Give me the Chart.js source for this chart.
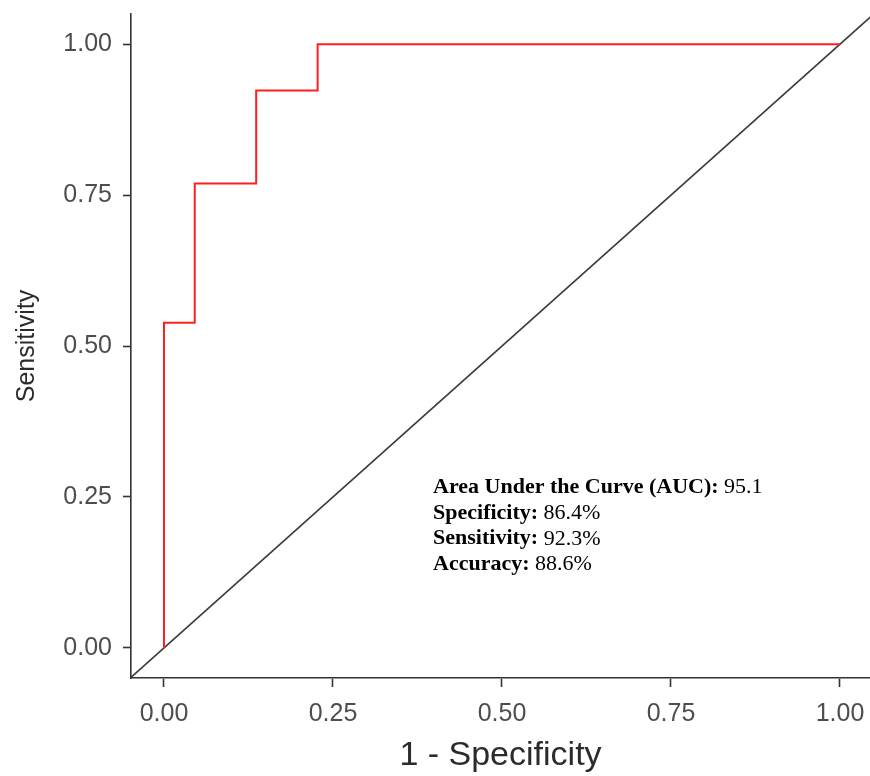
<!DOCTYPE html>
<html>
<head>
<meta charset="utf-8">
<script src="https://cdn.jsdelivr.net/npm/chart.js@4/dist/chart.umd.min.js"></script>
<style>
  html, body { margin: 0; padding: 0; background: #ffffff; overflow: hidden; }
  #wrap { width: 870px; height: 776px; position: relative; }
</style>
</head>
<body>
<div id="wrap"><canvas id="c" width="870" height="776"></canvas></div>
<script>
// ROC curve staircase points (1 - specificity, sensitivity)
const fpr = [0, 0, 0.0455, 0.0455, 0.1364, 0.1364, 0.2273, 0.2273, 1];
const tpr = [0, 0.5385, 0.5385, 0.7692, 0.7692, 0.9231, 0.9231, 1, 1];
// reference diagonal
const diagX = [-0.06, 1.06];
const diagY = [-0.06, 1.06];
// axis ticks
const tickValues = [0, 0.25, 0.5, 0.75, 1];
// annotation
const statLabels = ['Area Under the Curve (AUC):', 'Specificity:', 'Sensitivity:', 'Accuracy:'];
const statValues = ['95.1', '86.4%', '92.3%', '88.6%'];

const rocData = fpr.map((x, i) => ({ x: x, y: tpr[i] }));
const diagData = diagX.map((x, i) => ({ x: x, y: diagY[i] }));

const annotationPlugin = {
  id: 'statsText',
  afterDatasetsDraw(chart) {
    const ctx = chart.ctx;
    const xs = chart.scales.x, ys = chart.scales.y;
    const x0 = xs.getPixelForValue(0.398);
    const y0 = ys.getPixelForValue(0.266);
    const lh = 25.7;
    ctx.save();
    ctx.fillStyle = '#000000';
    ctx.textBaseline = 'middle';
    ctx.textAlign = 'left';
    statLabels.forEach((lab, i) => {
      const y = y0 + i * lh;
      ctx.font = 'bold 22px "Liberation Serif", "Times New Roman", serif';
      ctx.fillText(lab, x0, y);
      const w = ctx.measureText(lab + ' ').width;
      ctx.font = '22px "Liberation Serif", "Times New Roman", serif';
      ctx.fillText(statValues[i], x0 + w, y);
    });
    ctx.restore();
  }
};

const axisColor = '#333333';
const tickFont = { family: '"Liberation Sans", Arial, sans-serif', size: 25 };

new Chart(document.getElementById('c'), {
  type: 'scatter',
  data: {
    datasets: [
      {
        label: 'diagonal',
        data: diagData,
        showLine: true,
        borderColor: '#3c3c3c',
        borderWidth: 1.6,
        pointRadius: 0,
        fill: false,
        order: 2
      },
      {
        label: 'ROC',
        data: rocData,
        showLine: true,
        borderColor: '#ff1f1f',
        borderWidth: 2,
        pointRadius: 0,
        fill: false,
        order: 1
      }
    ]
  },
  options: {
    responsive: false,
    animation: false,
    devicePixelRatio: 1,
    layout: { padding: { top: 14, right: 0, left: 0, bottom: 0 } },
    plugins: {
      legend: { display: false },
      tooltip: { enabled: false }
    },
    scales: {
      x: {
        type: 'linear',
        min: -0.0488,
        max: 1.0444,
        afterBuildTicks(scale) { scale.ticks = tickValues.map(v => ({ value: v })); },
        afterFit(scale) { scale.height = 98; scale.paddingLeft = 0; scale.paddingRight = 0; },
        border: { display: true, color: axisColor, width: 1.6 },
        grid: { display: true, drawOnChartArea: false, drawTicks: true, tickLength: 9, tickWidth: 1.6, tickColor: axisColor },
        ticks: {
          color: '#4d4d4d',
          font: tickFont,
          padding: 12,
          maxRotation: 0,
          autoSkip: false,
          callback: (v) => Number(v).toFixed(2)
        },
        title: {
          display: true,
          text: '1 - Specificity',
          color: '#2b2b2b',
          font: { family: '"Liberation Sans", Arial, sans-serif', size: 34 },
          padding: { top: 2, bottom: 0 }
        }
      },
      y: {
        type: 'linear',
        min: -0.0498,
        max: 1.05,
        afterBuildTicks(scale) { scale.ticks = tickValues.map(v => ({ value: v })); },
        afterFit(scale) { scale.width = 131; scale.paddingTop = 0; scale.paddingBottom = 0; },
        border: { display: true, color: axisColor, width: 1.6 },
        grid: { display: true, drawOnChartArea: false, drawTicks: true, tickLength: 8, tickWidth: 1.6, tickColor: axisColor },
        ticks: {
          color: '#4d4d4d',
          font: tickFont,
          padding: 11,
          autoSkip: false,
          callback: (v) => Number(v).toFixed(2)
        },
        title: {
          display: true,
          text: 'Sensitivity',
          color: '#2b2b2b',
          font: { family: '"Liberation Sans", Arial, sans-serif', size: 25 },
          padding: { top: 12, bottom: 0 }
        }
      }
    }
  },
  plugins: [annotationPlugin]
});
</script>
</body>
</html>
